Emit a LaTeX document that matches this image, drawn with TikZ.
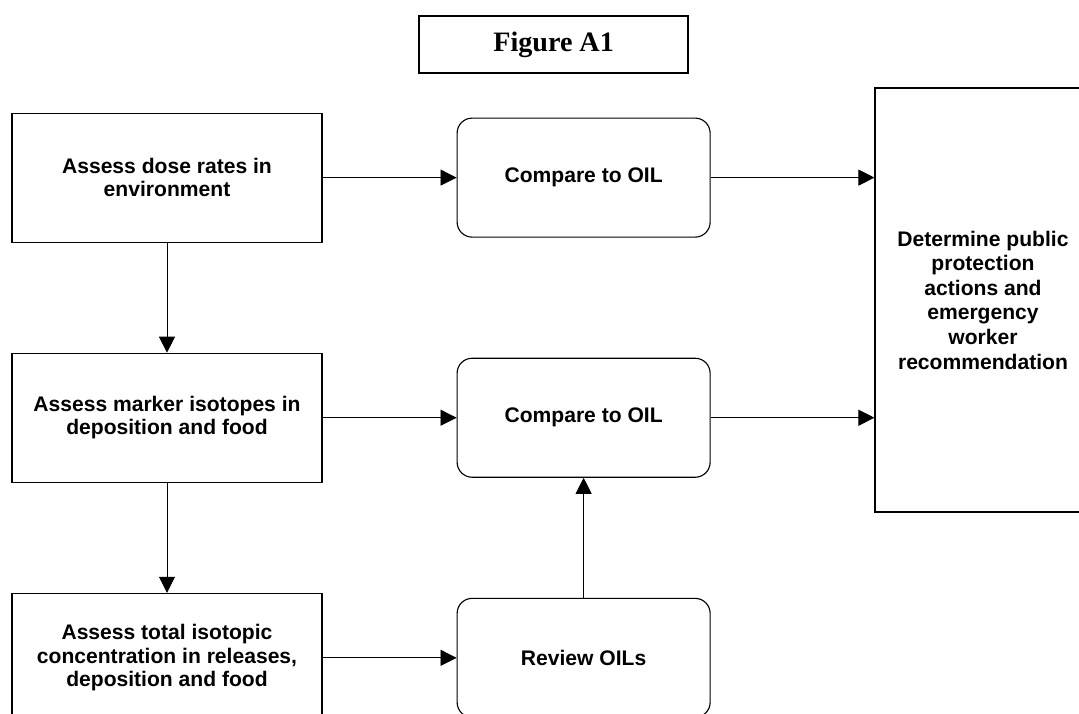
\documentclass[tikz,border=0pt]{standalone}
\usepackage{fontspec}
\setmainfont{Liberation Sans}
\newfontfamily\titlefont{Liberation Serif}
\usetikzlibrary{arrows.meta,positioning}

\begin{document}
\begin{tikzpicture}[
  >={Triangle[length=4mm,width=4mm]},
  node distance=2.75cm and 3.35cm,
  assess/.style={draw,line width=0.8pt,minimum width=7.75cm,minimum height=3.225cm,
    align=center,font=\bfseries\fontsize{15}{16.8}\selectfont},
  check/.style={draw,line width=0.8pt,rounded corners=0.375cm,minimum width=6.325cm,
    minimum height=2.975cm,align=center,font=\bfseries\fontsize{15}{16.8}\selectfont},
  flow/.style={->,line width=0.6pt}
]
  \useasboundingbox (0,0) rectangle (26.975,-17.825);
  \node[draw,line width=1.2pt,minimum width=6.725cm,minimum height=1.425cm,
    font=\titlefont\bfseries\fontsize{20}{24}\selectfont] (title) at (13.84,-1.11) {Figure A1};

  \node[assess] (dose) at (4.175,-4.44) {Assess dose rates in\\environment};
  \node[assess,below=of dose] (marker) {Assess marker isotopes in\\deposition and food};
  \node[assess,below=of marker] (total) {Assess total isotopic\\concentration in releases,\\deposition and food};
  \node[check,right=of dose] (cmpdose) {Compare to OIL};
  \node[check,right=of marker] (cmpmarker) {Compare to OIL};
  \node[check,right=of total] (review) {Review OILs};
  \node[draw,line width=0.8pt,minimum width=5.4cm,minimum height=10.6cm,align=center,
    font=\bfseries\fontsize{15}{17.5}\selectfont] (decide) at (24.575,-7.5)
    {Determine public\\protection\\actions and\\emergency\\worker\\recommendation};

  \draw[flow] (dose) -- (cmpdose);
  \draw[flow] (marker) -- (cmpmarker);
  \draw[flow] (total) -- (review);
  \draw[flow] (dose) -- (marker);
  \draw[flow] (marker) -- (total);
  \draw[flow] (review) -- (cmpmarker);
  \draw[flow] (cmpdose) -- (cmpdose -| decide.west);
  \draw[flow] (cmpmarker) -- (cmpmarker -| decide.west);
\end{tikzpicture}
\end{document}
